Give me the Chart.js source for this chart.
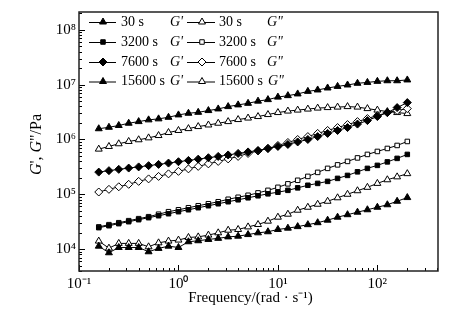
<!DOCTYPE html>
<html><head><meta charset="utf-8">
<script src="https://cdn.jsdelivr.net/npm/chart.js@4/dist/chart.umd.min.js"></script>
<style>html,body{margin:0;padding:0;background:#fff;}#wrap{width:473px;height:325px;}</style>
</head><body><div id="wrap"><canvas id="c" width="473" height="325"></canvas></div>
<script>
// ---- data ----
const frequency = [0.158,0.2,0.251,0.316,0.398,0.501,0.631,0.794,1,1.26,1.58,2,2.51,3.16,3.98,5.01,6.31,7.94,10,12.6,15.8,20,25.1,31.6,39.8,50.1,63.1,79.4,100,126,158,200];
const g1_30s = [1.13e4,8.57e3,1.07e4,1.07e4,1.07e4,8.93e3,1.03e4,1.13e4,1.07e4,1.36e4,1.42e4,1.50e4,1.57e4,1.67e4,1.72e4,1.84e4,1.98e4,2.07e4,2.28e4,2.41e4,2.57e4,2.79e4,3.03e4,3.37e4,3.82e4,4.24e4,4.71e4,5.22e4,5.80e4,6.44e4,7.46e4,8.71e4];
const g2_30s = [1.40e4,1.04e4,1.27e4,1.27e4,1.27e4,1.10e4,1.30e4,1.40e4,1.46e4,1.63e4,1.67e4,1.80e4,1.98e4,2.21e4,2.28e4,2.54e4,2.81e4,3.23e4,3.82e4,4.33e4,5.12e4,5.80e4,6.58e4,7.46e4,8.63e4,1.00e5,1.16e5,1.34e5,1.58e5,1.84e5,2.08e5,2.38e5];
const g1_3200s = [2.46e4,2.67e4,2.91e4,3.16e4,3.44e4,3.74e4,4.06e4,4.42e4,4.81e4,5.22e4,5.68e4,6.18e4,6.72e4,7.31e4,7.94e4,8.63e4,9.39e4,1.02e5,1.09e5,1.18e5,1.31e5,1.46e5,1.58e5,1.72e5,1.95e5,2.21e5,2.57e5,2.97e5,3.37e5,3.90e5,4.52e5,5.34e5];
const g2_3200s = [2.54e4,2.79e4,3.03e4,3.30e4,3.59e4,3.90e4,4.33e4,4.81e4,5.22e4,5.68e4,6.18e4,6.72e4,7.31e4,8.11e4,8.82e4,9.59e4,1.06e5,1.18e5,1.34e5,1.55e5,1.80e5,2.12e5,2.51e5,2.97e5,3.44e5,3.98e5,4.61e5,5.34e5,6.05e5,6.86e5,7.78e5,9.20e5];
const g1_7600s = [2.54e5,2.70e5,2.85e5,3.01e5,3.16e5,3.33e5,3.51e5,3.71e5,3.93e5,4.15e5,4.38e5,4.65e5,4.91e5,5.22e5,5.56e5,5.93e5,6.31e5,6.86e5,7.46e5,8.11e5,9.01e5,1.00e6,1.13e6,1.29e6,1.46e6,1.65e6,1.91e6,2.21e6,2.62e6,3.10e6,3.82e6,4.71e6];
const g2_7600s = [1.10e5,1.23e5,1.37e5,1.52e5,1.72e5,1.91e5,2.12e5,2.36e5,2.62e5,2.91e5,3.23e5,3.59e5,3.98e5,4.42e5,4.91e5,5.56e5,6.18e5,6.86e5,7.78e5,8.82e5,1.00e6,1.13e6,1.29e6,1.46e6,1.65e6,1.87e6,2.12e6,2.41e6,2.73e6,3.10e6,3.37e6,3.66e6];
const g1_15600s = [1.57e6,1.67e6,1.80e6,1.98e6,2.12e6,2.28e6,2.38e6,2.54e6,2.81e6,3.01e6,3.13e6,3.37e6,3.61e6,3.98e6,4.28e6,4.57e6,5.01e6,5.34e6,5.93e6,6.31e6,6.78e6,7.55e6,8.01e6,8.71e6,9.31e6,9.88e6,1.06e7,1.10e7,1.15e7,1.18e7,1.18e7,1.22e7];
const g2_15600s = [6.67e5,7.46e5,8.35e5,9.20e5,9.88e5,1.07e6,1.18e6,1.34e6,1.46e6,1.58e6,1.72e6,1.84e6,1.98e6,2.12e6,2.31e6,2.46e6,2.62e6,2.85e6,3.10e6,3.30e6,3.44e6,3.59e6,3.74e6,3.82e6,3.90e6,3.98e6,3.90e6,3.66e6,3.44e6,3.23e6,3.10e6,2.97e6];
const seriesLabels = ['30 s','3200 s','7600 s','15600 s'];
const xMajorTicks = [0.1,1,10,100];
const xTickLabels = ['10\u207B\u00B9','10\u2070','10\u00B9','10\u00B2'];
const yMajorTicks = [1e4,1e5,1e6,1e7,1e8];
const yTickLabels = ['10\u2074','10\u2075','10\u2076','10\u2077','10\u2078'];
const xTitle = 'Frequency/(rad \u00B7 s\u207B\u00B9)';

// ---- styling ----
const FONT = "'Liberation Serif','Times New Roman',serif";
const shapes = ['triangle','rect','rectRot','triangle'];
const radii = [4,3.2,4,4];
const gPrime = [g1_30s,g1_3200s,g1_7600s,g1_15600s];
const gDouble = [g2_30s,g2_3200s,g2_7600s,g2_15600s];

function pts(arr){ return frequency.map((f,i)=>({x:f,y:arr[i]})); }
const datasets = [];
for (let s=0;s<4;s++){
  datasets.push({label:seriesLabels[s]+" G'", data:pts(gPrime[s]), borderColor:'#000', borderWidth:1,
    pointStyle:shapes[s], pointRadius:radii[s], pointBackgroundColor:'#000', pointBorderColor:'#000', pointBorderWidth:1, tension:0});
  datasets.push({label:seriesLabels[s]+' G"', data:pts(gDouble[s]), borderColor:'#000', borderWidth:1,
    pointStyle:shapes[s], pointRadius:radii[s], pointBackgroundColor:'#fff', pointBorderColor:'#000', pointBorderWidth:1, tension:0});
}

function logTicks(min,max){
  const out=[];
  for(let e=-2;e<=9;e++){ for(let m=1;m<=9;m++){ const v=parseFloat((m*Math.pow(10,e)).toPrecision(6)); if(v>=min*0.9999 && v<=max*1.0001) out.push({value:v}); } }
  return out;
}
const X_MIN=0.1, X_MAX=407, Y_MIN=3981, Y_MAX=2.12e8;

const decor = {
  id:'decor',
  afterDraw(chart){
    const ctx=chart.ctx, a=chart.chartArea, xs=chart.scales.x, ys=chart.scales.y;
    ctx.save();
    // inward ticks
    ctx.strokeStyle='#000'; ctx.lineWidth=1;
    ys.ticks.forEach(t=>{ const p=Math.round(ys.getPixelForValue(t.value))+0.5; const L=yMajorTicks.includes(t.value)?6:3;
      ctx.beginPath(); ctx.moveTo(a.left,p); ctx.lineTo(a.left+L,p); ctx.stroke(); });
    xs.ticks.forEach(t=>{ const p=Math.round(xs.getPixelForValue(t.value))+0.5; const L=xMajorTicks.includes(t.value)?6:3;
      ctx.beginPath(); ctx.moveTo(p,a.bottom); ctx.lineTo(p,a.bottom-L); ctx.stroke(); });
    // frame
    ctx.strokeStyle='#222'; ctx.lineWidth=1.5;
    ctx.strokeRect(a.left,a.top,a.right-a.left,a.bottom-a.top);
    // x title
    ctx.fillStyle='#000'; ctx.font='15px '+FONT; ctx.textAlign='center'; ctx.textBaseline='middle';
    ctx.fillText(xTitle,(a.left+a.right)/2-8,298);
    // y title with italic G
    const segs=[['G',true],["', ",false],['G',true],['"/Pa',false]];
    ctx.save(); ctx.translate(37,(a.top+a.bottom)/2+3); ctx.rotate(-Math.PI/2);
    let w=0; segs.forEach(s=>{ctx.font=(s[1]?'italic ':'')+'16px '+FONT; w+=ctx.measureText(s[0]).width;});
    let x=-w/2; ctx.textAlign='left';
    segs.forEach(s=>{ctx.font=(s[1]?'italic ':'')+'16px '+FONT; ctx.fillText(s[0],x,0); x+=ctx.measureText(s[0]).width;});
    ctx.restore();
    // legend
    const rowsY=[22,42,62,81.5];
    const cols=[{l0:89,l1:116,m:103,t:121,g:170,suffix:"G'"},{l0:187,l1:215,m:202,t:219,g:267,suffix:'G"'}];
    for(let r=0;r<4;r++){
      cols.forEach((c,ci)=>{
        const ds=chart.data.datasets[r*2+ci], y=rowsY[r];
        ctx.strokeStyle='#000'; ctx.lineWidth=1;
        ctx.beginPath(); ctx.moveTo(c.l0,y+0.5); ctx.lineTo(c.l1,y+0.5); ctx.stroke();
        ctx.fillStyle=ds.pointBackgroundColor; ctx.strokeStyle='#000';
        Chart.helpers.drawPoint(ctx,{pointStyle:ds.pointStyle,radius:ds.pointRadius,rotation:0,borderWidth:1},c.m,y);
        ctx.fillStyle='#000'; ctx.font='14px '+FONT; ctx.textAlign='left'; ctx.textBaseline='middle';
        ctx.fillText(seriesLabels[r],c.t,y);
        const tw=ctx.measureText(seriesLabels[r]).width;
        ctx.font='italic 14px '+FONT;
        ctx.fillText(c.suffix,Math.max(c.g,c.t+tw+5),y);
      });
    }
    ctx.restore();
  }
};

new Chart(document.getElementById('c'),{
  type:'line',
  data:{datasets},
  options:{
    responsive:false, animation:false, devicePixelRatio:1,
    layout:{padding:{left:0,right:35,top:11,bottom:0}},
    plugins:{legend:{display:false},tooltip:{enabled:false}},
    scales:{
      x:{type:'logarithmic',min:X_MIN,max:X_MAX,
        afterBuildTicks(s){ s.ticks=logTicks(X_MIN,X_MAX); },
        afterFit(s){ s.height=54; },
        grid:{display:false,drawTicks:false}, border:{display:false},
        ticks:{autoSkip:false,maxRotation:0,padding:4,color:'#000',font:{family:FONT,size:15},
          callback(v){ const i=xMajorTicks.indexOf(v); return i>=0?xTickLabels[i]:''; }}},
      y:{type:'logarithmic',min:Y_MIN,max:Y_MAX,
        afterBuildTicks(s){ s.ticks=logTicks(Y_MIN,Y_MAX); },
        afterFit(s){ s.width=79; },
        grid:{display:false,drawTicks:false}, border:{display:false},
        ticks:{autoSkip:false,padding:3,color:'#000',font:{family:FONT,size:15},
          callback(v){ const i=yMajorTicks.indexOf(v); return i>=0?yTickLabels[i]:''; }}}
    }
  },
  plugins:[decor]
});
</script></body></html>
